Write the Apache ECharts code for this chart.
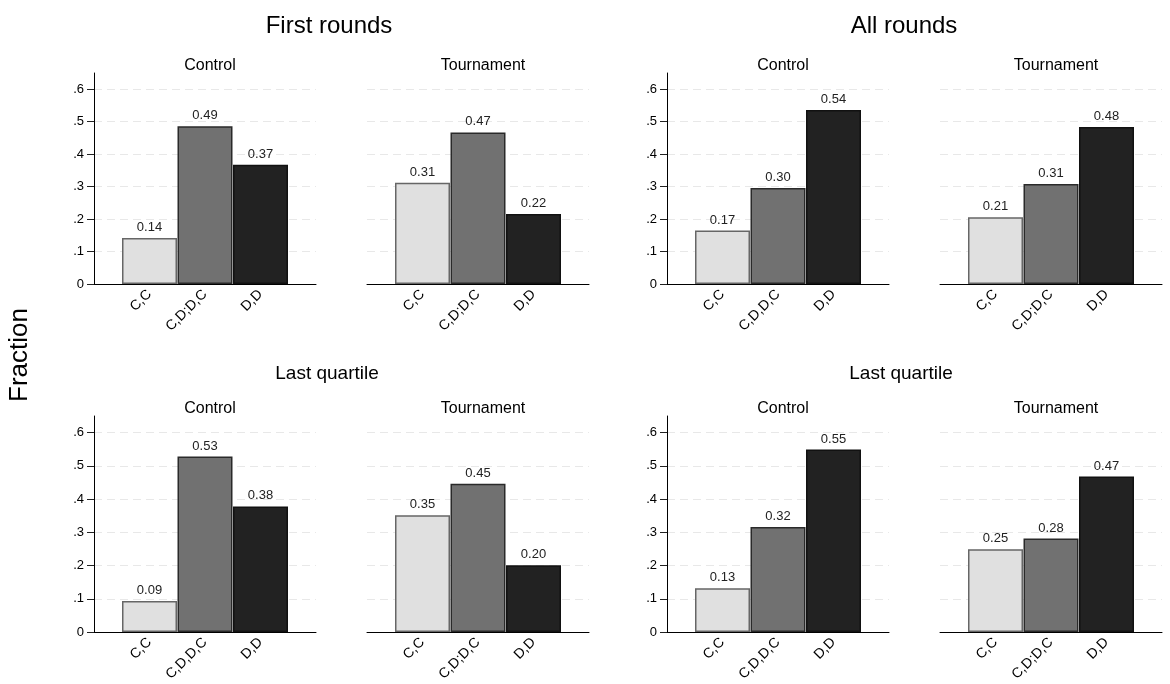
<!DOCTYPE html>
<html>
<head>
<meta charset="utf-8">
<script src="https://cdn.jsdelivr.net/npm/echarts@6/dist/echarts.min.js"></script>
<style>html,body{margin:0;padding:0;background:#fff}#c{width:1170px;height:684px}</style>
</head>
<body>
<div id="c"></div>
<script>
// ---- data ----
const panelTitles = ['First rounds', 'All rounds', 'Last quartile', 'Last quartile'];
const subTitles = ['Control', 'Tournament'];
const yTicks = [0, 0.1, 0.2, 0.3, 0.4, 0.5, 0.6];
const yTickLabels = ['0', '.1', '.2', '.3', '.4', '.5', '.6'];

const catsFirstControl = ['C,C', 'C,D;D,C', 'D,D'];
const catsFirstTournament = ['C,C', 'C,D;D,C', 'D,D'];
const catsAllControl = ['C,C', 'C,D,D,C', 'D,D'];
const catsAllTournament = ['C,C', 'C,D;D,C', 'D,D'];
const catsLastLControl = ['C,C', 'C,D,D,C', 'D,D'];
const catsLastLTournament = ['C,C', 'C,D;D,C', 'D,D'];
const catsLastRControl = ['C,C', 'C,D,D,C', 'D,D'];
const catsLastRTournament = ['C,C', 'C,D;D,C', 'D,D'];

const valsFirstControl = [0.142, 0.486, 0.367];
const valsFirstTournament = [0.312, 0.467, 0.216];
const valsAllControl = [0.165, 0.296, 0.536];
const valsAllTournament = [0.206, 0.308, 0.484];
const valsLastLControl = [0.093, 0.528, 0.378];
const valsLastLTournament = [0.351, 0.446, 0.201];
const valsLastRControl = [0.132, 0.316, 0.549];
const valsLastRTournament = [0.249, 0.281, 0.468];

// ---- styling ----
const barColors = ['#e0e0e0', '#717171', '#222222'];
const barBorders = ['#666666', '#2a2a2a', '#111111'];
const FONT = 'Liberation Sans, Arial, sans-serif';

const panels = [
  { cats: catsFirstControl, vals: valsFirstControl, yAxisShown: true },
  { cats: catsFirstTournament, vals: valsFirstTournament, yAxisShown: false },
  { cats: catsAllControl, vals: valsAllControl, yAxisShown: true },
  { cats: catsAllTournament, vals: valsAllTournament, yAxisShown: false },
  { cats: catsLastLControl, vals: valsLastLControl, yAxisShown: true },
  { cats: catsLastLTournament, vals: valsLastLTournament, yAxisShown: false },
  { cats: catsLastRControl, vals: valsLastRControl, yAxisShown: true },
  { cats: catsLastRTournament, vals: valsLastRTournament, yAxisShown: false }
];

const colLeft = [94, 367, 667, 940];
const colWidth = 222;
const rowTop = [73, 416];
const rowHeight = [211, 216];

const grids = [], xAxes = [], yAxes = [], series = [], titles = [];

panels.forEach((p, i) => {
  const row = i < 4 ? 0 : 1;
  const col = i % 4;
  grids.push({ left: colLeft[col], top: rowTop[row], width: colWidth, height: rowHeight[row] });
  xAxes.push({
    gridIndex: i, type: 'value', min: 0, max: 4, interval: 1,
    axisLine: { show: true, lineStyle: { color: '#000', width: 1 } },
    axisTick: { show: false },
    splitLine: { show: false },
    axisLabel: {
      rotate: 45, color: '#000', fontFamily: FONT, fontSize: 14, margin: 8,
      formatter: v => p.cats[v - 1] || ''
    }
  });
  yAxes.push({
    gridIndex: i, type: 'value', min: 0, max: 0.65, interval: 0.1,
    axisLine: { show: p.yAxisShown, lineStyle: { color: '#000', width: 1 } },
    axisTick: { show: p.yAxisShown, length: 7, lineStyle: { color: '#222' }, customValues: yTicks },
    axisLabel: {
      show: p.yAxisShown, color: '#000', fontFamily: FONT, fontSize: 13, margin: 10,
      customValues: yTicks,
      formatter: v => { const k = yTicks.findIndex(t => Math.abs(t - v) < 1e-6); return k >= 0 ? yTickLabels[k] : ''; }
    },
    splitLine: {
      show: true,
      lineStyle: { color: ['transparent', '#e8e8e8', '#e8e8e8', '#e8e8e8', '#e8e8e8', '#e8e8e8', '#e8e8e8', 'transparent'], type: [8, 5], width: 1 }
    }
  });
  series.push({
    type: 'bar', xAxisIndex: i, yAxisIndex: i, barWidth: 55,
    data: p.vals.map((v, k) => ({
      value: [k + 1, v],
      itemStyle: { color: barColors[k], borderColor: barBorders[k], borderWidth: 1.5 }
    })),
    label: {
      show: true, position: 'top', distance: 4, color: '#222', fontFamily: FONT, fontSize: 13,
      formatter: d => d.value[1].toFixed(2)
    },
    silent: true, animation: false
  });
  titles.push({
    text: subTitles[col % 2], left: colLeft[col] + colWidth / 2, top: rowTop[row] - 20, textAlign: 'center',
    textStyle: { fontFamily: FONT, fontSize: 16, fontWeight: 'normal', color: '#000' }
  });
});

// panel titles
const panelCenters = [324, 899, 322, 896];
const panelTitleTop = [9, 359];
const panelTitleSize = [24, 19];
panelTitles.forEach((t, i) => {
  const row = i < 2 ? 0 : 1;
  titles.push({
    text: t, left: panelCenters[i], top: panelTitleTop[row], textAlign: 'center',
    textStyle: { fontFamily: FONT, fontSize: panelTitleSize[row], fontWeight: 'normal', color: '#000' }
  });
});

const chart = echarts.init(document.getElementById('c'), null, { renderer: 'canvas' });
chart.setOption({
  backgroundColor: '#fff',
  animation: false,
  title: titles,
  grid: grids,
  xAxis: xAxes,
  yAxis: yAxes,
  series: series,
  graphic: [{
    type: 'text', left: 7, top: 308, rotation: Math.PI / 2,
    style: { text: 'Fraction', font: '26px ' + FONT, fill: '#000' }
  }]
});
</script>
</body>
</html>
